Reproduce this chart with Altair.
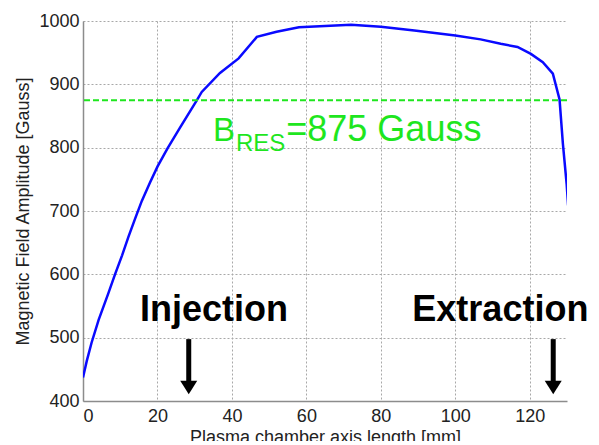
import altair as alt
import pandas as pd

# ---- data ----
axis_mm = [0, 1, 2.3, 4.2, 6.8, 8.6, 10.5, 12.2, 14.0, 15.8, 18.0, 20.0, 22.7,
           26.1, 30.6, 31.9, 36.8, 41.8, 46.7, 52, 58, 65, 72, 80, 89, 100,
           106.8, 112.2, 116.7, 120.3, 123.5, 126.2, 128, 128.9, 129.9, 130.3]
field_gauss = [437, 463, 492, 528, 570, 600, 630, 659, 688, 716, 745, 770, 799,
               832, 875, 888, 918, 941, 975, 983, 990, 992, 994, 991, 985, 977,
               971, 964, 959, 948, 935, 917, 876, 806, 743, 709]
b_res = 875
x_ticks = [0, 20, 40, 60, 80, 100, 120]
y_ticks = [400, 500, 600, 700, 800, 900, 1000]

label_names = ["Injection", "Extraction"]
label_x = [35.2, 112.1]
label_y = [526.7, 526.7]
arrow_x = [28.4, 126.3]
arrow_top = [497.7, 497.7]
arrow_bottom = [428, 428]
arrow_head_y = [421.2, 421.2]

res_parts = ["B", "RES", "=875 Gauss"]
res_x = [34.9, 41.1, 54.6]
res_y = [811.3, 794.4, 811.3]
res_size = [33, 24, 36]

green = "#1ee61e"

curve_df = pd.DataFrame({"x": axis_mm, "y": field_gauss})
xs = alt.Scale(domain=[0, 130], nice=False, zero=False)
ys = alt.Scale(domain=[400, 1000], nice=False, zero=False)

curve = alt.Chart(curve_df).mark_line(color="#0a0aff", strokeWidth=2.5,
                                      clip=True).encode(
    x=alt.X("x:Q", scale=xs,
            axis=alt.Axis(values=x_ticks, title="Plasma chamber axis length [mm]",
                          grid=True, format="d")),
    y=alt.Y("y:Q", scale=ys,
            axis=alt.Axis(values=y_ticks, title="Magnetic Field Amplitude [Gauss]",
                          grid=True, format="d")),
)

res_df = pd.DataFrame({"y": [b_res]})
res_line = alt.Chart(res_df).mark_rule(color=green, strokeWidth=2,
                                        strokeDash=[6, 3]).encode(
    y=alt.Y("y:Q", scale=ys))

txt_df = pd.DataFrame({"x": res_x, "y": res_y, "t": res_parts, "s": res_size})
res_text = alt.Chart(txt_df).mark_text(color=green, align="left",
                                       baseline="alphabetic",
                                       font="Liberation Sans").encode(
    x=alt.X("x:Q", scale=xs),
    y=alt.Y("y:Q", scale=ys),
    text="t:N",
    size=alt.Size("s:Q", scale=None, legend=None),
)

lab_df = pd.DataFrame({"x": label_x, "y": label_y, "t": label_names})
labels = alt.Chart(lab_df).mark_text(color="black", align="center",
                                     baseline="alphabetic", fontSize=36,
                                     fontWeight="bold",
                                     font="Liberation Sans").encode(
    x=alt.X("x:Q", scale=xs), y=alt.Y("y:Q", scale=ys), text="t:N")

arr_df = pd.DataFrame({"x": arrow_x, "y": arrow_top, "y2": arrow_bottom,
                       "yh": arrow_head_y})
shafts = alt.Chart(arr_df).mark_rule(color="black", strokeWidth=5).encode(
    x=alt.X("x:Q", scale=xs), y=alt.Y("y:Q", scale=ys), y2="y2:Q")
heads = alt.Chart(arr_df).mark_point(
    shape="M-1,-0.8L1,-0.8L0,0.8Z", filled=True, color="black", size=289,
    opacity=1).encode(x=alt.X("x:Q", scale=xs), y=alt.Y("yh:Q", scale=ys))

chart = alt.layer(curve, res_line, res_text, labels, shafts, heads).properties(
    width=484, height=380,
    autosize=alt.AutoSizeParams(type="none"),
    padding={"left": 75, "top": 13, "right": 24, "bottom": 40},
).configure_view(stroke=None).configure_axis(
    domainColor="#8c8c8c", domainWidth=1.5, tickSize=0,
    gridColor="#a8a8a8", gridDash=[2, 2], gridWidth=1,
    labelFont="Liberation Sans", labelFontSize=18, labelColor="#222222",
    titleFont="Liberation Sans", titleFontSize=18, titleFontWeight="normal",
    titleColor="#222222",
).configure_axisY(labelPadding=4, titlePadding=6).configure_axisX(
    labelPadding=6, titlePadding=3)

chart.save("out.html", embed_options={"renderer": "svg", "actions": False})
